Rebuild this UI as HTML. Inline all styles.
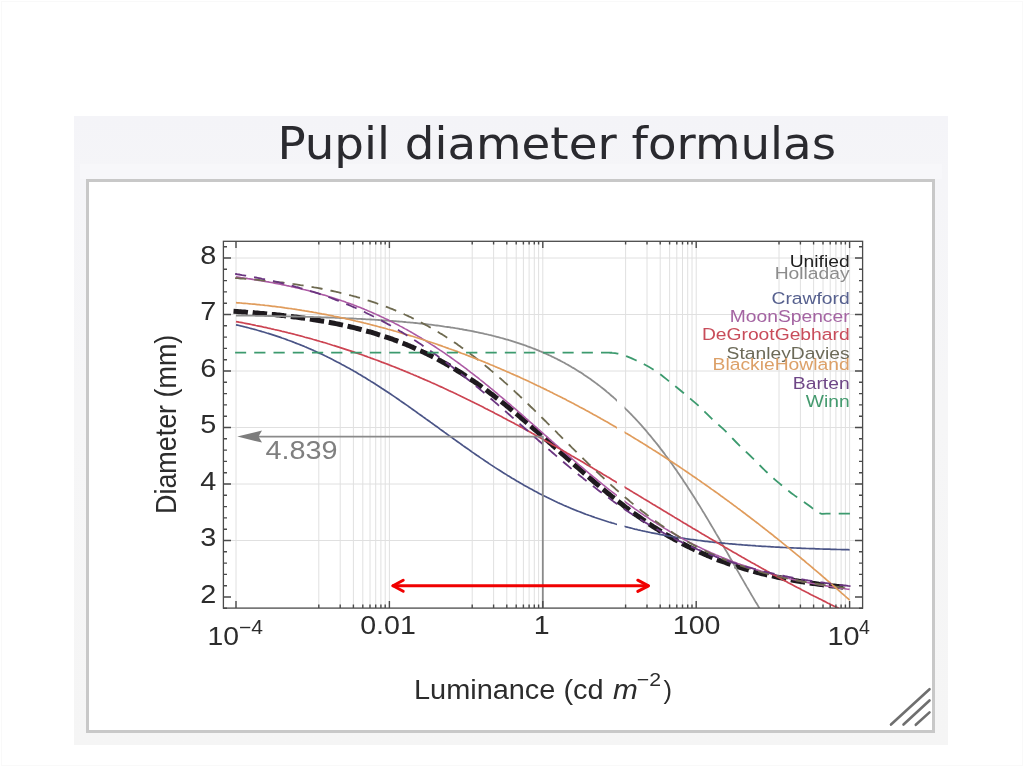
<!DOCTYPE html>
<html><head><meta charset="utf-8"><title>Pupil diameter formulas</title>
<style>
html,body{margin:0;padding:0;background:#fff;}
body{width:1024px;height:767px;overflow:hidden;position:relative;}
#panel{position:absolute;left:74px;top:116px;width:874px;height:629px;background:linear-gradient(#f4f4f8 0,#f5f5f8 60px,#f6f6f7 300px,#f5f5f5 100%);}
#box{position:absolute;left:86px;top:179px;width:849px;height:554px;box-sizing:border-box;border:3px solid #c8c8c8;background:#fff;}
svg{position:absolute;left:0;top:0;}
text{font-family:"Liberation Sans",Arial,sans-serif;}
</style></head>
<body>
<div style="position:absolute;left:1px;top:1px;right:1px;bottom:1px;border:1px solid #f9f9f9;"></div>
<div id="panel"></div>
<div style="position:absolute;left:80px;top:164px;width:862px;height:15px;background:#f7f7fa;"></div>
<div id="box"></div>
<svg width="1024" height="767" viewBox="0 0 1024 767">
<text transform="translate(277.4 158.8) scale(1.056 1)" font-size="44.25" fill="#2a2a2f" style="font-family:'DejaVu Sans',sans-serif">Pupil diameter formulas</text>
<g stroke="#e0e0e0" stroke-width="1" fill="none">
<line x1="223" x2="863" y1="540.5" y2="540.5"/>
<line x1="223" x2="863" y1="484.0" y2="484.0"/>
<line x1="223" x2="863" y1="427.5" y2="427.5"/>
<line x1="223" x2="863" y1="371.0" y2="371.0"/>
<line x1="223" x2="863" y1="314.5" y2="314.5"/>
<line x1="223" x2="863" y1="258.0" y2="258.0"/>
<line x1="236.0" x2="236.0" y1="241" y2="608"/>
<line x1="318.8" x2="318.8" y1="241" y2="608"/>
<line x1="340.2" x2="340.2" y1="241" y2="608"/>
<line x1="353.4" x2="353.4" y1="241" y2="608"/>
<line x1="362.8" x2="362.8" y1="241" y2="608"/>
<line x1="370.0" x2="370.0" y1="241" y2="608"/>
<line x1="375.7" x2="375.7" y1="241" y2="608"/>
<line x1="380.9" x2="380.9" y1="241" y2="608"/>
<line x1="385.2" x2="385.2" y1="241" y2="608"/>
<line x1="389.4" x2="389.4" y1="241" y2="608"/>
<line x1="472.2" x2="472.2" y1="241" y2="608"/>
<line x1="493.6" x2="493.6" y1="241" y2="608"/>
<line x1="506.8" x2="506.8" y1="241" y2="608"/>
<line x1="516.2" x2="516.2" y1="241" y2="608"/>
<line x1="523.4" x2="523.4" y1="241" y2="608"/>
<line x1="529.1" x2="529.1" y1="241" y2="608"/>
<line x1="534.3" x2="534.3" y1="241" y2="608"/>
<line x1="538.6" x2="538.6" y1="241" y2="608"/>
<line x1="542.8" x2="542.8" y1="241" y2="608"/>
<line x1="625.6" x2="625.6" y1="241" y2="608"/>
<line x1="647.0" x2="647.0" y1="241" y2="608"/>
<line x1="660.2" x2="660.2" y1="241" y2="608"/>
<line x1="669.6" x2="669.6" y1="241" y2="608"/>
<line x1="676.8" x2="676.8" y1="241" y2="608"/>
<line x1="682.5" x2="682.5" y1="241" y2="608"/>
<line x1="687.7" x2="687.7" y1="241" y2="608"/>
<line x1="692.0" x2="692.0" y1="241" y2="608"/>
<line x1="696.2" x2="696.2" y1="241" y2="608"/>
<line x1="779.0" x2="779.0" y1="241" y2="608"/>
<line x1="800.4" x2="800.4" y1="241" y2="608"/>
<line x1="813.6" x2="813.6" y1="241" y2="608"/>
<line x1="823.0" x2="823.0" y1="241" y2="608"/>
<line x1="830.2" x2="830.2" y1="241" y2="608"/>
<line x1="835.9" x2="835.9" y1="241" y2="608"/>
<line x1="841.1" x2="841.1" y1="241" y2="608"/>
<line x1="845.4" x2="845.4" y1="241" y2="608"/>
<line x1="849.6" x2="849.6" y1="241" y2="608"/>
</g>
<defs><clipPath id="cp"><rect x="223" y="241" width="394" height="367"/><rect x="624.5" y="241" width="239" height="367"/></clipPath></defs>
<g fill="none" stroke-linejoin="round">
<path d="M236.0 311.5 L237.5 311.6 L239.1 311.7 L240.6 311.8 L242.1 311.9 L243.7 312.0 L245.2 312.1 L246.7 312.3 L248.3 312.4 L249.8 312.5 L251.3 312.6 L252.9 312.7 L254.4 312.8 L255.9 313.0 L257.5 313.1 L259.0 313.2 L260.5 313.4 L262.1 313.5 L263.6 313.6 L265.1 313.8 L266.7 313.9 L268.2 314.0 L269.7 314.2 L271.3 314.3 L272.8 314.5 L274.4 314.6 L275.9 314.8 L277.4 315.0 L279.0 315.1 L280.5 315.3 L282.0 315.5 L283.6 315.6 L285.1 315.8 L286.6 316.0 L288.2 316.2 L289.7 316.3 L291.2 316.5 L292.8 316.7 L294.3 316.9 L295.8 317.1 L297.4 317.3 L298.9 317.5 L300.4 317.7 L302.0 317.9 L303.5 318.1 L305.0 318.4 L306.6 318.6 L308.1 318.8 L309.6 319.0 L311.2 319.3 L312.7 319.5 L314.2 319.8 L315.8 320.0 L317.3 320.3 L318.8 320.5 L320.4 320.8 L321.9 321.0 L323.4 321.3 L325.0 321.6 L326.5 321.8 L328.0 322.1 L329.6 322.4 L331.1 322.7 L332.6 323.0 L334.2 323.3 L335.7 323.6 L337.2 323.9 L338.8 324.2 L340.3 324.6 L341.8 324.9 L343.4 325.2 L344.9 325.6 L346.4 325.9 L348.0 326.3 L349.5 326.6 L351.1 327.0 L352.6 327.3 L354.1 327.7 L355.7 328.1 L357.2 328.5 L358.7 328.9 L360.3 329.3 L361.8 329.7 L363.3 330.1 L364.9 330.5 L366.4 330.9 L367.9 331.4 L369.5 331.8 L371.0 332.2 L372.5 332.7 L374.1 333.2 L375.6 333.6 L377.1 334.1 L378.7 334.6 L380.2 335.1 L381.7 335.5 L383.3 336.1 L384.8 336.6 L386.3 337.1 L387.9 337.6 L389.4 338.1 L390.9 338.7 L392.5 339.2 L394.0 339.8 L395.5 340.3 L397.1 340.9 L398.6 341.5 L400.1 342.1 L401.7 342.7 L403.2 343.3 L404.7 343.9 L406.3 344.5 L407.8 345.2 L409.3 345.8 L410.9 346.5 L412.4 347.1 L413.9 347.8 L415.5 348.5 L417.0 349.1 L418.5 349.8 L420.1 350.5 L421.6 351.3 L423.1 352.0 L424.7 352.7 L426.2 353.5 L427.8 354.2 L429.3 355.0 L430.8 355.7 L432.4 356.5 L433.9 357.3 L435.4 358.1 L437.0 358.9 L438.5 359.7 L440.0 360.6 L441.6 361.4 L443.1 362.3 L444.6 363.1 L446.2 364.0 L447.7 364.9 L449.2 365.8 L450.8 366.7 L452.3 367.6 L453.8 368.5 L455.4 369.4 L456.9 370.3 L458.4 371.3 L460.0 372.2 L461.5 373.2 L463.0 374.2 L464.6 375.2 L466.1 376.2 L467.6 377.2 L469.2 378.2 L470.7 379.2 L472.2 380.3 L473.8 381.3 L475.3 382.4 L476.8 383.4 L478.4 384.5 L479.9 385.6 L481.4 386.7 L483.0 387.8 L484.5 388.9 L486.0 390.0 L487.6 391.1 L489.1 392.3 L490.6 393.4 L492.2 394.6 L493.7 395.7 L495.2 396.9 L496.8 398.1 L498.3 399.3 L499.8 400.5 L501.4 401.7 L502.9 402.9 L504.4 404.1 L506.0 405.3 L507.5 406.6 L509.1 407.8 L510.6 409.1 L512.1 410.3 L513.7 411.6 L515.2 412.9 L516.7 414.1 L518.3 415.4 L519.8 416.7 L521.3 418.0 L522.9 419.3 L524.4 420.6 L525.9 421.9 L527.5 423.2 L529.0 424.5 L530.5 425.9 L532.1 427.2 L533.6 428.5 L535.1 429.8 L536.7 431.2 L538.2 432.5 L539.7 433.9 L541.3 435.2 L542.8 436.6 L544.3 437.9 L545.9 439.3 L547.4 440.6 L548.9 442.0 L550.5 443.4 L552.0 444.7 L553.5 446.1 L555.1 447.5 L556.6 448.8 L558.1 450.2 L559.7 451.6 L561.2 452.9 L562.7 454.3 L564.3 455.6 L565.8 457.0 L567.3 458.4 L568.9 459.7 L570.4 461.1 L571.9 462.5 L573.5 463.8 L575.0 465.2 L576.5 466.5 L578.1 467.9 L579.6 469.2 L581.2 470.6 L582.7 471.9 L584.2 473.2 L585.8 474.6 L587.3 475.9 L588.8 477.2 L590.4 478.5 L591.9 479.8 L593.4 481.2 L595.0 482.5 L596.5 483.8 L598.0 485.0 L599.6 486.3 L601.1 487.6 L602.6 488.9 L604.2 490.2 L605.7 491.4 L607.2 492.7 L608.8 493.9 L610.3 495.2 L611.8 496.4 L613.4 497.6 L614.9 498.8 L616.4 500.1 L618.0 501.3 L619.5 502.5 L621.0 503.6 L622.6 504.8 L624.1 506.0 L625.6 507.2 L627.2 508.3 L628.7 509.5 L630.2 510.6 L631.8 511.7 L633.3 512.9 L634.8 514.0 L636.4 515.1 L637.9 516.2 L639.4 517.2 L641.0 518.3 L642.5 519.4 L644.0 520.4 L645.6 521.5 L647.1 522.5 L648.6 523.5 L650.2 524.6 L651.7 525.6 L653.2 526.6 L654.8 527.6 L656.3 528.5 L657.9 529.5 L659.4 530.5 L660.9 531.4 L662.5 532.3 L664.0 533.3 L665.5 534.2 L667.1 535.1 L668.6 536.0 L670.1 536.9 L671.7 537.8 L673.2 538.6 L674.7 539.5 L676.3 540.3 L677.8 541.2 L679.3 542.0 L680.9 542.8 L682.4 543.6 L683.9 544.4 L685.5 545.2 L687.0 546.0 L688.5 546.8 L690.1 547.5 L691.6 548.3 L693.1 549.0 L694.7 549.8 L696.2 550.5 L697.7 551.2 L699.3 551.9 L700.8 552.6 L702.3 553.3 L703.9 554.0 L705.4 554.6 L706.9 555.3 L708.5 555.9 L710.0 556.6 L711.5 557.2 L713.1 557.8 L714.6 558.5 L716.1 559.1 L717.7 559.7 L719.2 560.3 L720.7 560.8 L722.3 561.4 L723.8 562.0 L725.3 562.5 L726.9 563.1 L728.4 563.6 L729.9 564.2 L731.5 564.7 L733.0 565.2 L734.5 565.7 L736.1 566.2 L737.6 566.7 L739.2 567.2 L740.7 567.7 L742.2 568.1 L743.8 568.6 L745.3 569.1 L746.8 569.5 L748.4 570.0 L749.9 570.4 L751.4 570.8 L753.0 571.3 L754.5 571.7 L756.0 572.1 L757.6 572.5 L759.1 572.9 L760.6 573.3 L762.2 573.7 L763.7 574.0 L765.2 574.4 L766.8 574.8 L768.3 575.1 L769.8 575.5 L771.4 575.8 L772.9 576.2 L774.4 576.5 L776.0 576.9 L777.5 577.2 L779.0 577.5 L780.6 577.8 L782.1 578.1 L783.6 578.5 L785.2 578.8 L786.7 579.1 L788.2 579.3 L789.8 579.6 L791.3 579.9 L792.8 580.2 L794.4 580.5 L795.9 580.7 L797.4 581.0 L799.0 581.3 L800.5 581.5 L802.0 581.8 L803.6 582.0 L805.1 582.2 L806.6 582.5 L808.2 582.7 L809.7 583.0 L811.2 583.2 L812.8 583.4 L814.3 583.6 L815.9 583.8 L817.4 584.0 L818.9 584.3 L820.5 584.5 L822.0 584.7 L823.5 584.9 L825.1 585.0 L826.6 585.2 L828.1 585.4 L829.7 585.6 L831.2 585.8 L832.7 586.0 L834.3 586.1 L835.8 586.3 L837.3 586.5 L838.9 586.6 L840.4 586.8 L841.9 587.0 L843.5 587.1 L845.0 587.3 L846.5 587.4 L848.1 587.6 L849.6 587.7" stroke="#1e1a1e" stroke-width="5" stroke-dasharray="9.45 9.75" stroke-linecap="square"/>
<path d="M236.0 315.5 L237.5 315.5 L239.1 315.5 L240.6 315.6 L242.1 315.6 L243.7 315.6 L245.2 315.6 L246.7 315.6 L248.3 315.7 L249.8 315.7 L251.3 315.7 L252.9 315.7 L254.4 315.7 L255.9 315.8 L257.5 315.8 L259.0 315.8 L260.5 315.8 L262.1 315.9 L263.6 315.9 L265.1 315.9 L266.7 315.9 L268.2 316.0 L269.7 316.0 L271.3 316.0 L272.8 316.1 L274.4 316.1 L275.9 316.1 L277.4 316.1 L279.0 316.2 L280.5 316.2 L282.0 316.2 L283.6 316.3 L285.1 316.3 L286.6 316.3 L288.2 316.4 L289.7 316.4 L291.2 316.4 L292.8 316.5 L294.3 316.5 L295.8 316.5 L297.4 316.6 L298.9 316.6 L300.4 316.7 L302.0 316.7 L303.5 316.7 L305.0 316.8 L306.6 316.8 L308.1 316.9 L309.6 316.9 L311.2 317.0 L312.7 317.0 L314.2 317.1 L315.8 317.1 L317.3 317.1 L318.8 317.2 L320.4 317.2 L321.9 317.3 L323.4 317.3 L325.0 317.4 L326.5 317.5 L328.0 317.5 L329.6 317.6 L331.1 317.6 L332.6 317.7 L334.2 317.7 L335.7 317.8 L337.2 317.9 L338.8 317.9 L340.3 318.0 L341.8 318.0 L343.4 318.1 L344.9 318.2 L346.4 318.3 L348.0 318.3 L349.5 318.4 L351.1 318.5 L352.6 318.5 L354.1 318.6 L355.7 318.7 L357.2 318.8 L358.7 318.8 L360.3 318.9 L361.8 319.0 L363.3 319.1 L364.9 319.2 L366.4 319.3 L367.9 319.3 L369.5 319.4 L371.0 319.5 L372.5 319.6 L374.1 319.7 L375.6 319.8 L377.1 319.9 L378.7 320.0 L380.2 320.1 L381.7 320.2 L383.3 320.3 L384.8 320.4 L386.3 320.5 L387.9 320.6 L389.4 320.8 L390.9 320.9 L392.5 321.0 L394.0 321.1 L395.5 321.2 L397.1 321.4 L398.6 321.5 L400.1 321.6 L401.7 321.7 L403.2 321.9 L404.7 322.0 L406.3 322.2 L407.8 322.3 L409.3 322.4 L410.9 322.6 L412.4 322.7 L413.9 322.9 L415.5 323.0 L417.0 323.2 L418.5 323.4 L420.1 323.5 L421.6 323.7 L423.1 323.9 L424.7 324.0 L426.2 324.2 L427.8 324.4 L429.3 324.6 L430.8 324.7 L432.4 324.9 L433.9 325.1 L435.4 325.3 L437.0 325.5 L438.5 325.7 L440.0 325.9 L441.6 326.1 L443.1 326.3 L444.6 326.6 L446.2 326.8 L447.7 327.0 L449.2 327.2 L450.8 327.5 L452.3 327.7 L453.8 327.9 L455.4 328.2 L456.9 328.4 L458.4 328.7 L460.0 329.0 L461.5 329.2 L463.0 329.5 L464.6 329.8 L466.1 330.0 L467.6 330.3 L469.2 330.6 L470.7 330.9 L472.2 331.2 L473.8 331.5 L475.3 331.8 L476.8 332.1 L478.4 332.5 L479.9 332.8 L481.4 333.1 L483.0 333.4 L484.5 333.8 L486.0 334.1 L487.6 334.5 L489.1 334.9 L490.6 335.2 L492.2 335.6 L493.7 336.0 L495.2 336.4 L496.8 336.8 L498.3 337.2 L499.8 337.6 L501.4 338.0 L502.9 338.4 L504.4 338.8 L506.0 339.3 L507.5 339.7 L509.1 340.2 L510.6 340.6 L512.1 341.1 L513.7 341.6 L515.2 342.1 L516.7 342.6 L518.3 343.1 L519.8 343.6 L521.3 344.1 L522.9 344.6 L524.4 345.2 L525.9 345.7 L527.5 346.3 L529.0 346.8 L530.5 347.4 L532.1 348.0 L533.6 348.6 L535.1 349.2 L536.7 349.8 L538.2 350.4 L539.7 351.1 L541.3 351.7 L542.8 352.4 L544.3 353.1 L545.9 353.7 L547.4 354.4 L548.9 355.1 L550.5 355.8 L552.0 356.6 L553.5 357.3 L555.1 358.1 L556.6 358.8 L558.1 359.6 L559.7 360.4 L561.2 361.2 L562.7 362.0 L564.3 362.8 L565.8 363.7 L567.3 364.5 L568.9 365.4 L570.4 366.3 L571.9 367.2 L573.5 368.1 L575.0 369.0 L576.5 369.9 L578.1 370.9 L579.6 371.9 L581.2 372.8 L582.7 373.8 L584.2 374.9 L585.8 375.9 L587.3 376.9 L588.8 378.0 L590.4 379.1 L591.9 380.2 L593.4 381.3 L595.0 382.4 L596.5 383.6 L598.0 384.7 L599.6 385.9 L601.1 387.1 L602.6 388.3 L604.2 389.5 L605.7 390.8 L607.2 392.1 L608.8 393.3 L610.3 394.7 L611.8 396.0 L613.4 397.3 L614.9 398.7 L616.4 400.1 L618.0 401.5 L619.5 402.9 L621.0 404.3 L622.6 405.8 L624.1 407.3 L625.6 408.8 L627.2 410.3 L628.7 411.8 L630.2 413.4 L631.8 415.0 L633.3 416.6 L634.8 418.2 L636.4 419.9 L637.9 421.5 L639.4 423.2 L641.0 424.9 L642.5 426.6 L644.0 428.4 L645.6 430.2 L647.1 432.0 L648.6 433.8 L650.2 435.6 L651.7 437.5 L653.2 439.4 L654.8 441.3 L656.3 443.2 L657.9 445.1 L659.4 447.1 L660.9 449.1 L662.5 451.1 L664.0 453.1 L665.5 455.2 L667.1 457.2 L668.6 459.3 L670.1 461.5 L671.7 463.6 L673.2 465.8 L674.7 467.9 L676.3 470.1 L677.8 472.4 L679.3 474.6 L680.9 476.9 L682.4 479.1 L683.9 481.4 L685.5 483.7 L687.0 486.1 L688.5 488.4 L690.1 490.8 L691.6 493.2 L693.1 495.6 L694.7 498.0 L696.2 500.5 L697.7 502.9 L699.3 505.4 L700.8 507.9 L702.3 510.4 L703.9 512.9 L705.4 515.5 L706.9 518.0 L708.5 520.6 L710.0 523.2 L711.5 525.8 L713.1 528.4 L714.6 531.0 L716.1 533.6 L717.7 536.2 L719.2 538.8 L720.7 541.5 L722.3 544.1 L723.8 546.8 L725.3 549.5 L726.9 552.1 L728.4 554.8 L729.9 557.5 L731.5 560.2 L733.0 562.8 L734.5 565.5 L736.1 568.2 L737.6 570.9 L739.2 573.6 L740.7 576.2 L742.2 578.9 L743.8 581.6 L745.3 584.2 L746.8 586.9 L748.4 589.5 L749.9 592.1 L751.4 594.8 L753.0 597.4 L754.5 600.0 L756.0 602.6 L757.6 605.1 L759.1 607.7 L760.6 610.2 L762.2 612.8 L763.7 615.3 L765.2 617.7 L766.8 620.2 L768.3 622.6 L769.8 625.1 L771.4 627.5 L772.9 629.8 L774.4 632.2 L776.0 634.5 L777.5 636.8 L779.0 639.0 L780.6 641.3 L782.1 643.5 L783.6 645.6 L785.2 647.8 L786.7 649.9 L788.2 651.9 L789.8 654.0 L791.3 656.0 L792.8 657.9 L794.4 659.9 L795.9 661.8 L797.4 663.6 L799.0 665.4 L800.5 667.2 L802.0 668.9 L803.6 670.6 L805.1 672.3 L806.6 673.9 L808.2 675.5 L809.7 677.0 L811.2 678.5 L812.8 679.9 L814.3 681.3 L815.9 682.7 L817.4 684.0 L818.9 685.3 L820.5 686.5 L822.0 687.7 L823.5 688.9 L825.1 690.0 L826.6 691.1 L828.1 692.1 L829.7 693.1 L831.2 694.1 L832.7 695.0 L834.3 695.9 L835.8 696.8 L837.3 697.6 L838.9 698.3 L840.4 699.1 L841.9 699.8 L843.5 700.5 L845.0 701.1 L846.5 701.7 L848.1 702.3 L849.6 702.8" stroke="#8e8e8e" stroke-width="1.8" clip-path="url(#cp)"/>
<path d="M236.0 324.8 L237.5 325.1 L239.1 325.5 L240.6 325.9 L242.1 326.2 L243.7 326.6 L245.2 327.0 L246.7 327.4 L248.3 327.8 L249.8 328.2 L251.3 328.6 L252.9 329.0 L254.4 329.4 L255.9 329.8 L257.5 330.3 L259.0 330.7 L260.5 331.1 L262.1 331.6 L263.6 332.0 L265.1 332.5 L266.7 333.0 L268.2 333.4 L269.7 333.9 L271.3 334.4 L272.8 334.9 L274.4 335.4 L275.9 335.9 L277.4 336.4 L279.0 336.9 L280.5 337.4 L282.0 338.0 L283.6 338.5 L285.1 339.0 L286.6 339.6 L288.2 340.2 L289.7 340.7 L291.2 341.3 L292.8 341.9 L294.3 342.5 L295.8 343.1 L297.4 343.7 L298.9 344.3 L300.4 344.9 L302.0 345.5 L303.5 346.1 L305.0 346.8 L306.6 347.4 L308.1 348.1 L309.6 348.7 L311.2 349.4 L312.7 350.1 L314.2 350.8 L315.8 351.5 L317.3 352.2 L318.8 352.9 L320.4 353.6 L321.9 354.3 L323.4 355.0 L325.0 355.8 L326.5 356.5 L328.0 357.3 L329.6 358.0 L331.1 358.8 L332.6 359.6 L334.2 360.4 L335.7 361.2 L337.2 362.0 L338.8 362.8 L340.3 363.6 L341.8 364.4 L343.4 365.2 L344.9 366.1 L346.4 366.9 L348.0 367.8 L349.5 368.6 L351.1 369.5 L352.6 370.3 L354.1 371.2 L355.7 372.1 L357.2 373.0 L358.7 373.9 L360.3 374.8 L361.8 375.7 L363.3 376.7 L364.9 377.6 L366.4 378.5 L367.9 379.5 L369.5 380.4 L371.0 381.4 L372.5 382.3 L374.1 383.3 L375.6 384.3 L377.1 385.2 L378.7 386.2 L380.2 387.2 L381.7 388.2 L383.3 389.2 L384.8 390.2 L386.3 391.2 L387.9 392.3 L389.4 393.3 L390.9 394.3 L392.5 395.4 L394.0 396.4 L395.5 397.4 L397.1 398.5 L398.6 399.5 L400.1 400.6 L401.7 401.7 L403.2 402.7 L404.7 403.8 L406.3 404.9 L407.8 405.9 L409.3 407.0 L410.9 408.1 L412.4 409.2 L413.9 410.3 L415.5 411.4 L417.0 412.5 L418.5 413.6 L420.1 414.7 L421.6 415.8 L423.1 416.9 L424.7 418.0 L426.2 419.1 L427.8 420.2 L429.3 421.3 L430.8 422.4 L432.4 423.5 L433.9 424.6 L435.4 425.7 L437.0 426.8 L438.5 427.9 L440.0 429.1 L441.6 430.2 L443.1 431.3 L444.6 432.4 L446.2 433.5 L447.7 434.6 L449.2 435.7 L450.8 436.8 L452.3 437.9 L453.8 439.0 L455.4 440.1 L456.9 441.2 L458.4 442.3 L460.0 443.4 L461.5 444.5 L463.0 445.6 L464.6 446.7 L466.1 447.8 L467.6 448.8 L469.2 449.9 L470.7 451.0 L472.2 452.1 L473.8 453.1 L475.3 454.2 L476.8 455.3 L478.4 456.3 L479.9 457.4 L481.4 458.4 L483.0 459.4 L484.5 460.5 L486.0 461.5 L487.6 462.5 L489.1 463.6 L490.6 464.6 L492.2 465.6 L493.7 466.6 L495.2 467.6 L496.8 468.6 L498.3 469.6 L499.8 470.5 L501.4 471.5 L502.9 472.5 L504.4 473.4 L506.0 474.4 L507.5 475.4 L509.1 476.3 L510.6 477.2 L512.1 478.2 L513.7 479.1 L515.2 480.0 L516.7 480.9 L518.3 481.8 L519.8 482.7 L521.3 483.6 L522.9 484.5 L524.4 485.4 L525.9 486.2 L527.5 487.1 L529.0 487.9 L530.5 488.8 L532.1 489.6 L533.6 490.4 L535.1 491.3 L536.7 492.1 L538.2 492.9 L539.7 493.7 L541.3 494.5 L542.8 495.3 L544.3 496.0 L545.9 496.8 L547.4 497.6 L548.9 498.3 L550.5 499.1 L552.0 499.8 L553.5 500.5 L555.1 501.3 L556.6 502.0 L558.1 502.7 L559.7 503.4 L561.2 504.1 L562.7 504.8 L564.3 505.5 L565.8 506.1 L567.3 506.8 L568.9 507.4 L570.4 508.1 L571.9 508.7 L573.5 509.4 L575.0 510.0 L576.5 510.6 L578.1 511.2 L579.6 511.8 L581.2 512.4 L582.7 513.0 L584.2 513.6 L585.8 514.2 L587.3 514.7 L588.8 515.3 L590.4 515.8 L591.9 516.4 L593.4 516.9 L595.0 517.5 L596.5 518.0 L598.0 518.5 L599.6 519.0 L601.1 519.5 L602.6 520.0 L604.2 520.5 L605.7 521.0 L607.2 521.5 L608.8 522.0 L610.3 522.4 L611.8 522.9 L613.4 523.3 L614.9 523.8 L616.4 524.2 L618.0 524.7 L619.5 525.1 L621.0 525.5 L622.6 525.9 L624.1 526.3 L625.6 526.7 L627.2 527.1 L628.7 527.5 L630.2 527.9 L631.8 528.3 L633.3 528.7 L634.8 529.1 L636.4 529.4 L637.9 529.8 L639.4 530.1 L641.0 530.5 L642.5 530.8 L644.0 531.2 L645.6 531.5 L647.1 531.8 L648.6 532.2 L650.2 532.5 L651.7 532.8 L653.2 533.1 L654.8 533.4 L656.3 533.7 L657.9 534.0 L659.4 534.3 L660.9 534.6 L662.5 534.9 L664.0 535.2 L665.5 535.4 L667.1 535.7 L668.6 536.0 L670.1 536.2 L671.7 536.5 L673.2 536.8 L674.7 537.0 L676.3 537.3 L677.8 537.5 L679.3 537.7 L680.9 538.0 L682.4 538.2 L683.9 538.4 L685.5 538.7 L687.0 538.9 L688.5 539.1 L690.1 539.3 L691.6 539.5 L693.1 539.7 L694.7 539.9 L696.2 540.1 L697.7 540.3 L699.3 540.5 L700.8 540.7 L702.3 540.9 L703.9 541.1 L705.4 541.3 L706.9 541.4 L708.5 541.6 L710.0 541.8 L711.5 542.0 L713.1 542.1 L714.6 542.3 L716.1 542.5 L717.7 542.6 L719.2 542.8 L720.7 542.9 L722.3 543.1 L723.8 543.2 L725.3 543.4 L726.9 543.5 L728.4 543.7 L729.9 543.8 L731.5 543.9 L733.0 544.1 L734.5 544.2 L736.1 544.3 L737.6 544.5 L739.2 544.6 L740.7 544.7 L742.2 544.8 L743.8 545.0 L745.3 545.1 L746.8 545.2 L748.4 545.3 L749.9 545.4 L751.4 545.5 L753.0 545.6 L754.5 545.7 L756.0 545.9 L757.6 546.0 L759.1 546.1 L760.6 546.2 L762.2 546.3 L763.7 546.3 L765.2 546.4 L766.8 546.5 L768.3 546.6 L769.8 546.7 L771.4 546.8 L772.9 546.9 L774.4 547.0 L776.0 547.1 L777.5 547.1 L779.0 547.2 L780.6 547.3 L782.1 547.4 L783.6 547.5 L785.2 547.5 L786.7 547.6 L788.2 547.7 L789.8 547.8 L791.3 547.8 L792.8 547.9 L794.4 548.0 L795.9 548.0 L797.4 548.1 L799.0 548.2 L800.5 548.2 L802.0 548.3 L803.6 548.3 L805.1 548.4 L806.6 548.5 L808.2 548.5 L809.7 548.6 L811.2 548.6 L812.8 548.7 L814.3 548.7 L815.9 548.8 L817.4 548.9 L818.9 548.9 L820.5 549.0 L822.0 549.0 L823.5 549.1 L825.1 549.1 L826.6 549.2 L828.1 549.2 L829.7 549.2 L831.2 549.3 L832.7 549.3 L834.3 549.4 L835.8 549.4 L837.3 549.5 L838.9 549.5 L840.4 549.5 L841.9 549.6 L843.5 549.6 L845.0 549.7 L846.5 549.7 L848.1 549.7 L849.6 549.8" stroke="#4a5486" stroke-width="1.7" clip-path="url(#cp)"/>
<path d="M236.0 276.9 L237.5 277.1 L239.1 277.3 L240.6 277.6 L242.1 277.8 L243.7 278.0 L245.2 278.2 L246.7 278.4 L248.3 278.7 L249.8 278.9 L251.3 279.1 L252.9 279.4 L254.4 279.6 L255.9 279.9 L257.5 280.1 L259.0 280.4 L260.5 280.6 L262.1 280.9 L263.6 281.1 L265.1 281.4 L266.7 281.7 L268.2 281.9 L269.7 282.2 L271.3 282.5 L272.8 282.8 L274.4 283.1 L275.9 283.4 L277.4 283.7 L279.0 284.0 L280.5 284.3 L282.0 284.6 L283.6 284.9 L285.1 285.2 L286.6 285.6 L288.2 285.9 L289.7 286.2 L291.2 286.6 L292.8 286.9 L294.3 287.3 L295.8 287.6 L297.4 288.0 L298.9 288.3 L300.4 288.7 L302.0 289.1 L303.5 289.5 L305.0 289.8 L306.6 290.2 L308.1 290.6 L309.6 291.0 L311.2 291.4 L312.7 291.8 L314.2 292.3 L315.8 292.7 L317.3 293.1 L318.8 293.5 L320.4 294.0 L321.9 294.4 L323.4 294.9 L325.0 295.3 L326.5 295.8 L328.0 296.3 L329.6 296.7 L331.1 297.2 L332.6 297.7 L334.2 298.2 L335.7 298.7 L337.2 299.2 L338.8 299.7 L340.3 300.2 L341.8 300.8 L343.4 301.3 L344.9 301.8 L346.4 302.4 L348.0 302.9 L349.5 303.5 L351.1 304.1 L352.6 304.6 L354.1 305.2 L355.7 305.8 L357.2 306.4 L358.7 307.0 L360.3 307.6 L361.8 308.2 L363.3 308.8 L364.9 309.5 L366.4 310.1 L367.9 310.8 L369.5 311.4 L371.0 312.1 L372.5 312.7 L374.1 313.4 L375.6 314.1 L377.1 314.8 L378.7 315.5 L380.2 316.2 L381.7 316.9 L383.3 317.6 L384.8 318.4 L386.3 319.1 L387.9 319.8 L389.4 320.6 L390.9 321.4 L392.5 322.1 L394.0 322.9 L395.5 323.7 L397.1 324.5 L398.6 325.3 L400.1 326.1 L401.7 326.9 L403.2 327.7 L404.7 328.6 L406.3 329.4 L407.8 330.3 L409.3 331.1 L410.9 332.0 L412.4 332.9 L413.9 333.8 L415.5 334.7 L417.0 335.6 L418.5 336.5 L420.1 337.4 L421.6 338.3 L423.1 339.3 L424.7 340.2 L426.2 341.2 L427.8 342.1 L429.3 343.1 L430.8 344.1 L432.4 345.1 L433.9 346.0 L435.4 347.0 L437.0 348.1 L438.5 349.1 L440.0 350.1 L441.6 351.1 L443.1 352.2 L444.6 353.2 L446.2 354.3 L447.7 355.4 L449.2 356.4 L450.8 357.5 L452.3 358.6 L453.8 359.7 L455.4 360.8 L456.9 361.9 L458.4 363.0 L460.0 364.2 L461.5 365.3 L463.0 366.4 L464.6 367.6 L466.1 368.7 L467.6 369.9 L469.2 371.1 L470.7 372.3 L472.2 373.4 L473.8 374.6 L475.3 375.8 L476.8 377.0 L478.4 378.2 L479.9 379.5 L481.4 380.7 L483.0 381.9 L484.5 383.2 L486.0 384.4 L487.6 385.6 L489.1 386.9 L490.6 388.2 L492.2 389.4 L493.7 390.7 L495.2 392.0 L496.8 393.2 L498.3 394.5 L499.8 395.8 L501.4 397.1 L502.9 398.4 L504.4 399.7 L506.0 401.0 L507.5 402.3 L509.1 403.6 L510.6 404.9 L512.1 406.3 L513.7 407.6 L515.2 408.9 L516.7 410.2 L518.3 411.6 L519.8 412.9 L521.3 414.2 L522.9 415.6 L524.4 416.9 L525.9 418.3 L527.5 419.6 L529.0 421.0 L530.5 422.3 L532.1 423.7 L533.6 425.0 L535.1 426.4 L536.7 427.7 L538.2 429.1 L539.7 430.4 L541.3 431.8 L542.8 433.1 L544.3 434.5 L545.9 435.9 L547.4 437.2 L548.9 438.6 L550.5 439.9 L552.0 441.3 L553.5 442.6 L555.1 444.0 L556.6 445.3 L558.1 446.7 L559.7 448.0 L561.2 449.4 L562.7 450.7 L564.3 452.1 L565.8 453.4 L567.3 454.7 L568.9 456.1 L570.4 457.4 L571.9 458.7 L573.5 460.0 L575.0 461.4 L576.5 462.7 L578.1 464.0 L579.6 465.3 L581.2 466.6 L582.7 467.9 L584.2 469.2 L585.8 470.5 L587.3 471.8 L588.8 473.1 L590.4 474.3 L591.9 475.6 L593.4 476.9 L595.0 478.1 L596.5 479.4 L598.0 480.7 L599.6 481.9 L601.1 483.1 L602.6 484.4 L604.2 485.6 L605.7 486.8 L607.2 488.1 L608.8 489.3 L610.3 490.5 L611.8 491.7 L613.4 492.9 L614.9 494.0 L616.4 495.2 L618.0 496.4 L619.5 497.6 L621.0 498.7 L622.6 499.9 L624.1 501.0 L625.6 502.1 L627.2 503.3 L628.7 504.4 L630.2 505.5 L631.8 506.6 L633.3 507.7 L634.8 508.8 L636.4 509.9 L637.9 510.9 L639.4 512.0 L641.0 513.1 L642.5 514.1 L644.0 515.2 L645.6 516.2 L647.1 517.2 L648.6 518.2 L650.2 519.3 L651.7 520.3 L653.2 521.2 L654.8 522.2 L656.3 523.2 L657.9 524.2 L659.4 525.1 L660.9 526.1 L662.5 527.0 L664.0 528.0 L665.5 528.9 L667.1 529.8 L668.6 530.7 L670.1 531.6 L671.7 532.5 L673.2 533.4 L674.7 534.3 L676.3 535.2 L677.8 536.0 L679.3 536.9 L680.9 537.7 L682.4 538.6 L683.9 539.4 L685.5 540.2 L687.0 541.0 L688.5 541.8 L690.1 542.6 L691.6 543.4 L693.1 544.2 L694.7 544.9 L696.2 545.7 L697.7 546.5 L699.3 547.2 L700.8 547.9 L702.3 548.7 L703.9 549.4 L705.4 550.1 L706.9 550.8 L708.5 551.5 L710.0 552.2 L711.5 552.9 L713.1 553.6 L714.6 554.2 L716.1 554.9 L717.7 555.5 L719.2 556.2 L720.7 556.8 L722.3 557.5 L723.8 558.1 L725.3 558.7 L726.9 559.3 L728.4 559.9 L729.9 560.5 L731.5 561.1 L733.0 561.7 L734.5 562.2 L736.1 562.8 L737.6 563.4 L739.2 563.9 L740.7 564.5 L742.2 565.0 L743.8 565.5 L745.3 566.1 L746.8 566.6 L748.4 567.1 L749.9 567.6 L751.4 568.1 L753.0 568.6 L754.5 569.1 L756.0 569.6 L757.6 570.0 L759.1 570.5 L760.6 571.0 L762.2 571.4 L763.7 571.9 L765.2 572.3 L766.8 572.8 L768.3 573.2 L769.8 573.6 L771.4 574.0 L772.9 574.5 L774.4 574.9 L776.0 575.3 L777.5 575.7 L779.0 576.1 L780.6 576.5 L782.1 576.8 L783.6 577.2 L785.2 577.6 L786.7 578.0 L788.2 578.3 L789.8 578.7 L791.3 579.0 L792.8 579.4 L794.4 579.7 L795.9 580.1 L797.4 580.4 L799.0 580.7 L800.5 581.1 L802.0 581.4 L803.6 581.7 L805.1 582.0 L806.6 582.3 L808.2 582.6 L809.7 582.9 L811.2 583.2 L812.8 583.5 L814.3 583.8 L815.9 584.1 L817.4 584.4 L818.9 584.6 L820.5 584.9 L822.0 585.2 L823.5 585.4 L825.1 585.7 L826.6 585.9 L828.1 586.2 L829.7 586.4 L831.2 586.7 L832.7 586.9 L834.3 587.2 L835.8 587.4 L837.3 587.6 L838.9 587.9 L840.4 588.1 L841.9 588.3 L843.5 588.5 L845.0 588.7 L846.5 589.0 L848.1 589.2 L849.6 589.4" stroke="#ac5aa4" stroke-width="1.6" clip-path="url(#cp)"/>
<path d="M236.0 321.6 L237.5 321.9 L239.1 322.2 L240.6 322.4 L242.1 322.7 L243.7 323.0 L245.2 323.3 L246.7 323.6 L248.3 323.9 L249.8 324.2 L251.3 324.5 L252.9 324.8 L254.4 325.1 L255.9 325.5 L257.5 325.8 L259.0 326.1 L260.5 326.4 L262.1 326.7 L263.6 327.1 L265.1 327.4 L266.7 327.7 L268.2 328.1 L269.7 328.4 L271.3 328.8 L272.8 329.1 L274.4 329.5 L275.9 329.8 L277.4 330.2 L279.0 330.5 L280.5 330.9 L282.0 331.3 L283.6 331.6 L285.1 332.0 L286.6 332.4 L288.2 332.8 L289.7 333.1 L291.2 333.5 L292.8 333.9 L294.3 334.3 L295.8 334.7 L297.4 335.1 L298.9 335.5 L300.4 335.9 L302.0 336.3 L303.5 336.7 L305.0 337.2 L306.6 337.6 L308.1 338.0 L309.6 338.4 L311.2 338.8 L312.7 339.3 L314.2 339.7 L315.8 340.1 L317.3 340.6 L318.8 341.0 L320.4 341.5 L321.9 341.9 L323.4 342.4 L325.0 342.8 L326.5 343.3 L328.0 343.8 L329.6 344.2 L331.1 344.7 L332.6 345.2 L334.2 345.6 L335.7 346.1 L337.2 346.6 L338.8 347.1 L340.3 347.6 L341.8 348.1 L343.4 348.6 L344.9 349.1 L346.4 349.6 L348.0 350.1 L349.5 350.6 L351.1 351.1 L352.6 351.6 L354.1 352.1 L355.7 352.7 L357.2 353.2 L358.7 353.7 L360.3 354.3 L361.8 354.8 L363.3 355.3 L364.9 355.9 L366.4 356.4 L367.9 357.0 L369.5 357.5 L371.0 358.1 L372.5 358.6 L374.1 359.2 L375.6 359.8 L377.1 360.3 L378.7 360.9 L380.2 361.5 L381.7 362.1 L383.3 362.6 L384.8 363.2 L386.3 363.8 L387.9 364.4 L389.4 365.0 L390.9 365.6 L392.5 366.2 L394.0 366.8 L395.5 367.4 L397.1 368.0 L398.6 368.6 L400.1 369.3 L401.7 369.9 L403.2 370.5 L404.7 371.1 L406.3 371.8 L407.8 372.4 L409.3 373.0 L410.9 373.7 L412.4 374.3 L413.9 375.0 L415.5 375.6 L417.0 376.3 L418.5 376.9 L420.1 377.6 L421.6 378.2 L423.1 378.9 L424.7 379.6 L426.2 380.2 L427.8 380.9 L429.3 381.6 L430.8 382.3 L432.4 383.0 L433.9 383.6 L435.4 384.3 L437.0 385.0 L438.5 385.7 L440.0 386.4 L441.6 387.1 L443.1 387.8 L444.6 388.5 L446.2 389.2 L447.7 389.9 L449.2 390.7 L450.8 391.4 L452.3 392.1 L453.8 392.8 L455.4 393.5 L456.9 394.3 L458.4 395.0 L460.0 395.7 L461.5 396.5 L463.0 397.2 L464.6 398.0 L466.1 398.7 L467.6 399.5 L469.2 400.2 L470.7 401.0 L472.2 401.7 L473.8 402.5 L475.3 403.3 L476.8 404.0 L478.4 404.8 L479.9 405.6 L481.4 406.3 L483.0 407.1 L484.5 407.9 L486.0 408.7 L487.6 409.4 L489.1 410.2 L490.6 411.0 L492.2 411.8 L493.7 412.6 L495.2 413.4 L496.8 414.2 L498.3 415.0 L499.8 415.8 L501.4 416.6 L502.9 417.4 L504.4 418.2 L506.0 419.0 L507.5 419.9 L509.1 420.7 L510.6 421.5 L512.1 422.3 L513.7 423.1 L515.2 424.0 L516.7 424.8 L518.3 425.6 L519.8 426.4 L521.3 427.3 L522.9 428.1 L524.4 429.0 L525.9 429.8 L527.5 430.6 L529.0 431.5 L530.5 432.3 L532.1 433.2 L533.6 434.0 L535.1 434.9 L536.7 435.7 L538.2 436.6 L539.7 437.5 L541.3 438.3 L542.8 439.2 L544.3 440.0 L545.9 440.9 L547.4 441.8 L548.9 442.6 L550.5 443.5 L552.0 444.4 L553.5 445.3 L555.1 446.1 L556.6 447.0 L558.1 447.9 L559.7 448.8 L561.2 449.7 L562.7 450.5 L564.3 451.4 L565.8 452.3 L567.3 453.2 L568.9 454.1 L570.4 455.0 L571.9 455.9 L573.5 456.8 L575.0 457.7 L576.5 458.6 L578.1 459.4 L579.6 460.3 L581.2 461.2 L582.7 462.1 L584.2 463.0 L585.8 464.0 L587.3 464.9 L588.8 465.8 L590.4 466.7 L591.9 467.6 L593.4 468.5 L595.0 469.4 L596.5 470.3 L598.0 471.2 L599.6 472.1 L601.1 473.0 L602.6 474.0 L604.2 474.9 L605.7 475.8 L607.2 476.7 L608.8 477.6 L610.3 478.5 L611.8 479.5 L613.4 480.4 L614.9 481.3 L616.4 482.2 L618.0 483.1 L619.5 484.1 L621.0 485.0 L622.6 485.9 L624.1 486.8 L625.6 487.7 L627.2 488.7 L628.7 489.6 L630.2 490.5 L631.8 491.4 L633.3 492.4 L634.8 493.3 L636.4 494.2 L637.9 495.1 L639.4 496.1 L641.0 497.0 L642.5 497.9 L644.0 498.9 L645.6 499.8 L647.1 500.7 L648.6 501.6 L650.2 502.6 L651.7 503.5 L653.2 504.4 L654.8 505.3 L656.3 506.3 L657.9 507.2 L659.4 508.1 L660.9 509.0 L662.5 510.0 L664.0 510.9 L665.5 511.8 L667.1 512.8 L668.6 513.7 L670.1 514.6 L671.7 515.5 L673.2 516.4 L674.7 517.4 L676.3 518.3 L677.8 519.2 L679.3 520.1 L680.9 521.1 L682.4 522.0 L683.9 522.9 L685.5 523.8 L687.0 524.7 L688.5 525.7 L690.1 526.6 L691.6 527.5 L693.1 528.4 L694.7 529.3 L696.2 530.2 L697.7 531.1 L699.3 532.1 L700.8 533.0 L702.3 533.9 L703.9 534.8 L705.4 535.7 L706.9 536.6 L708.5 537.5 L710.0 538.4 L711.5 539.3 L713.1 540.2 L714.6 541.1 L716.1 542.0 L717.7 542.9 L719.2 543.8 L720.7 544.7 L722.3 545.6 L723.8 546.5 L725.3 547.4 L726.9 548.3 L728.4 549.2 L729.9 550.1 L731.5 551.0 L733.0 551.9 L734.5 552.8 L736.1 553.6 L737.6 554.5 L739.2 555.4 L740.7 556.3 L742.2 557.2 L743.8 558.0 L745.3 558.9 L746.8 559.8 L748.4 560.7 L749.9 561.5 L751.4 562.4 L753.0 563.3 L754.5 564.1 L756.0 565.0 L757.6 565.8 L759.1 566.7 L760.6 567.6 L762.2 568.4 L763.7 569.3 L765.2 570.1 L766.8 571.0 L768.3 571.8 L769.8 572.7 L771.4 573.5 L772.9 574.4 L774.4 575.2 L776.0 576.0 L777.5 576.9 L779.0 577.7 L780.6 578.5 L782.1 579.4 L783.6 580.2 L785.2 581.0 L786.7 581.8 L788.2 582.7 L789.8 583.5 L791.3 584.3 L792.8 585.1 L794.4 585.9 L795.9 586.7 L797.4 587.5 L799.0 588.3 L800.5 589.1 L802.0 589.9 L803.6 590.7 L805.1 591.5 L806.6 592.3 L808.2 593.1 L809.7 593.9 L811.2 594.7 L812.8 595.5 L814.3 596.3 L815.9 597.0 L817.4 597.8 L818.9 598.6 L820.5 599.3 L822.0 600.1 L823.5 600.9 L825.1 601.6 L826.6 602.4 L828.1 603.2 L829.7 603.9 L831.2 604.7 L832.7 605.4 L834.3 606.2 L835.8 606.9 L837.3 607.6 L838.9 608.4 L840.4 609.1 L841.9 609.8 L843.5 610.6 L845.0 611.3 L846.5 612.0 L848.1 612.7 L849.6 613.5" stroke="#cc4452" stroke-width="1.7" clip-path="url(#cp)"/>
<path d="M236.0 278.1 L237.5 278.2 L239.1 278.3 L240.6 278.5 L242.1 278.6 L243.7 278.7 L245.2 278.8 L246.7 278.9 L248.3 279.1 L249.8 279.2 L251.3 279.3 L252.9 279.5 L254.4 279.6 L255.9 279.7 L257.5 279.9 L259.0 280.0 L260.5 280.2 L262.1 280.3 L263.6 280.5 L265.1 280.6 L266.7 280.8 L268.2 281.0 L269.7 281.1 L271.3 281.3 L272.8 281.5 L274.4 281.6 L275.9 281.8 L277.4 282.0 L279.0 282.2 L280.5 282.3 L282.0 282.5 L283.6 282.7 L285.1 282.9 L286.6 283.1 L288.2 283.3 L289.7 283.5 L291.2 283.7 L292.8 284.0 L294.3 284.2 L295.8 284.4 L297.4 284.6 L298.9 284.8 L300.4 285.1 L302.0 285.3 L303.5 285.6 L305.0 285.8 L306.6 286.0 L308.1 286.3 L309.6 286.6 L311.2 286.8 L312.7 287.1 L314.2 287.4 L315.8 287.6 L317.3 287.9 L318.8 288.2 L320.4 288.5 L321.9 288.8 L323.4 289.1 L325.0 289.4 L326.5 289.7 L328.0 290.0 L329.6 290.3 L331.1 290.7 L332.6 291.0 L334.2 291.3 L335.7 291.7 L337.2 292.0 L338.8 292.4 L340.3 292.8 L341.8 293.1 L343.4 293.5 L344.9 293.9 L346.4 294.3 L348.0 294.7 L349.5 295.1 L351.1 295.5 L352.6 295.9 L354.1 296.3 L355.7 296.7 L357.2 297.2 L358.7 297.6 L360.3 298.0 L361.8 298.5 L363.3 299.0 L364.9 299.4 L366.4 299.9 L367.9 300.4 L369.5 300.9 L371.0 301.4 L372.5 301.9 L374.1 302.4 L375.6 302.9 L377.1 303.5 L378.7 304.0 L380.2 304.5 L381.7 305.1 L383.3 305.7 L384.8 306.2 L386.3 306.8 L387.9 307.4 L389.4 308.0 L390.9 308.6 L392.5 309.2 L394.0 309.8 L395.5 310.5 L397.1 311.1 L398.6 311.8 L400.1 312.4 L401.7 313.1 L403.2 313.8 L404.7 314.5 L406.3 315.2 L407.8 315.9 L409.3 316.6 L410.9 317.3 L412.4 318.1 L413.9 318.8 L415.5 319.6 L417.0 320.4 L418.5 321.1 L420.1 321.9 L421.6 322.7 L423.1 323.5 L424.7 324.4 L426.2 325.2 L427.8 326.0 L429.3 326.9 L430.8 327.8 L432.4 328.6 L433.9 329.5 L435.4 330.4 L437.0 331.3 L438.5 332.2 L440.0 333.2 L441.6 334.1 L443.1 335.1 L444.6 336.0 L446.2 337.0 L447.7 338.0 L449.2 339.0 L450.8 340.0 L452.3 341.0 L453.8 342.1 L455.4 343.1 L456.9 344.1 L458.4 345.2 L460.0 346.3 L461.5 347.4 L463.0 348.5 L464.6 349.6 L466.1 350.7 L467.6 351.8 L469.2 353.0 L470.7 354.1 L472.2 355.3 L473.8 356.5 L475.3 357.6 L476.8 358.8 L478.4 360.0 L479.9 361.3 L481.4 362.5 L483.0 363.7 L484.5 365.0 L486.0 366.2 L487.6 367.5 L489.1 368.8 L490.6 370.1 L492.2 371.4 L493.7 372.7 L495.2 374.0 L496.8 375.3 L498.3 376.6 L499.8 378.0 L501.4 379.3 L502.9 380.7 L504.4 382.1 L506.0 383.4 L507.5 384.8 L509.1 386.2 L510.6 387.6 L512.1 389.0 L513.7 390.4 L515.2 391.9 L516.7 393.3 L518.3 394.7 L519.8 396.2 L521.3 397.6 L522.9 399.1 L524.4 400.6 L525.9 402.0 L527.5 403.5 L529.0 405.0 L530.5 406.5 L532.1 408.0 L533.6 409.4 L535.1 410.9 L536.7 412.4 L538.2 414.0 L539.7 415.5 L541.3 417.0 L542.8 418.5 L544.3 420.0 L545.9 421.5 L547.4 423.1 L548.9 424.6 L550.5 426.1 L552.0 427.7 L553.5 429.2 L555.1 430.7 L556.6 432.2 L558.1 433.8 L559.7 435.3 L561.2 436.8 L562.7 438.4 L564.3 439.9 L565.8 441.4 L567.3 443.0 L568.9 444.5 L570.4 446.0 L571.9 447.6 L573.5 449.1 L575.0 450.6 L576.5 452.1 L578.1 453.6 L579.6 455.1 L581.2 456.6 L582.7 458.1 L584.2 459.6 L585.8 461.1 L587.3 462.6 L588.8 464.1 L590.4 465.6 L591.9 467.1 L593.4 468.5 L595.0 470.0 L596.5 471.5 L598.0 472.9 L599.6 474.4 L601.1 475.8 L602.6 477.2 L604.2 478.7 L605.7 480.1 L607.2 481.5 L608.8 482.9 L610.3 484.3 L611.8 485.7 L613.4 487.0 L614.9 488.4 L616.4 489.8 L618.0 491.1 L619.5 492.5 L621.0 493.8 L622.6 495.1 L624.1 496.4 L625.6 497.7 L627.2 499.0 L628.7 500.3 L630.2 501.6 L631.8 502.9 L633.3 504.1 L634.8 505.4 L636.4 506.6 L637.9 507.8 L639.4 509.1 L641.0 510.3 L642.5 511.5 L644.0 512.6 L645.6 513.8 L647.1 515.0 L648.6 516.1 L650.2 517.3 L651.7 518.4 L653.2 519.5 L654.8 520.6 L656.3 521.7 L657.9 522.8 L659.4 523.9 L660.9 525.0 L662.5 526.0 L664.0 527.0 L665.5 528.1 L667.1 529.1 L668.6 530.1 L670.1 531.1 L671.7 532.1 L673.2 533.1 L674.7 534.0 L676.3 535.0 L677.8 535.9 L679.3 536.9 L680.9 537.8 L682.4 538.7 L683.9 539.6 L685.5 540.5 L687.0 541.3 L688.5 542.2 L690.1 543.1 L691.6 543.9 L693.1 544.7 L694.7 545.6 L696.2 546.4 L697.7 547.2 L699.3 548.0 L700.8 548.8 L702.3 549.5 L703.9 550.3 L705.4 551.0 L706.9 551.8 L708.5 552.5 L710.0 553.2 L711.5 553.9 L713.1 554.6 L714.6 555.3 L716.1 556.0 L717.7 556.7 L719.2 557.3 L720.7 558.0 L722.3 558.6 L723.8 559.3 L725.3 559.9 L726.9 560.5 L728.4 561.1 L729.9 561.7 L731.5 562.3 L733.0 562.9 L734.5 563.5 L736.1 564.0 L737.6 564.6 L739.2 565.1 L740.7 565.7 L742.2 566.2 L743.8 566.7 L745.3 567.2 L746.8 567.7 L748.4 568.2 L749.9 568.7 L751.4 569.2 L753.0 569.7 L754.5 570.2 L756.0 570.6 L757.6 571.1 L759.1 571.5 L760.6 572.0 L762.2 572.4 L763.7 572.8 L765.2 573.2 L766.8 573.6 L768.3 574.1 L769.8 574.5 L771.4 574.8 L772.9 575.2 L774.4 575.6 L776.0 576.0 L777.5 576.4 L779.0 576.7 L780.6 577.1 L782.1 577.4 L783.6 577.8 L785.2 578.1 L786.7 578.4 L788.2 578.8 L789.8 579.1 L791.3 579.4 L792.8 579.7 L794.4 580.0 L795.9 580.3 L797.4 580.6 L799.0 580.9 L800.5 581.2 L802.0 581.5 L803.6 581.8 L805.1 582.0 L806.6 582.3 L808.2 582.6 L809.7 582.8 L811.2 583.1 L812.8 583.3 L814.3 583.6 L815.9 583.8 L817.4 584.0 L818.9 584.3 L820.5 584.5 L822.0 584.7 L823.5 585.0 L825.1 585.2 L826.6 585.4 L828.1 585.6 L829.7 585.8 L831.2 586.0 L832.7 586.2 L834.3 586.4 L835.8 586.6 L837.3 586.8 L838.9 587.0 L840.4 587.1 L841.9 587.3 L843.5 587.5 L845.0 587.7 L846.5 587.8 L848.1 588.0 L849.6 588.2" stroke="#6e6a50" stroke-width="1.8" stroke-dasharray="9.4 9.85" stroke-linecap="square"/>
<path d="M236.0 302.7 L237.5 302.8 L239.1 302.9 L240.6 303.0 L242.1 303.2 L243.7 303.3 L245.2 303.4 L246.7 303.5 L248.3 303.7 L249.8 303.8 L251.3 304.0 L252.9 304.1 L254.4 304.2 L255.9 304.4 L257.5 304.6 L259.0 304.7 L260.5 304.9 L262.1 305.0 L263.6 305.2 L265.1 305.4 L266.7 305.5 L268.2 305.7 L269.7 305.9 L271.3 306.1 L272.8 306.3 L274.4 306.4 L275.9 306.6 L277.4 306.8 L279.0 307.0 L280.5 307.2 L282.0 307.4 L283.6 307.6 L285.1 307.9 L286.6 308.1 L288.2 308.3 L289.7 308.5 L291.2 308.7 L292.8 309.0 L294.3 309.2 L295.8 309.4 L297.4 309.7 L298.9 309.9 L300.4 310.1 L302.0 310.4 L303.5 310.6 L305.0 310.9 L306.6 311.1 L308.1 311.4 L309.6 311.7 L311.2 311.9 L312.7 312.2 L314.2 312.5 L315.8 312.7 L317.3 313.0 L318.8 313.3 L320.4 313.6 L321.9 313.9 L323.4 314.1 L325.0 314.4 L326.5 314.7 L328.0 315.0 L329.6 315.3 L331.1 315.6 L332.6 315.9 L334.2 316.3 L335.7 316.6 L337.2 316.9 L338.8 317.2 L340.3 317.5 L341.8 317.9 L343.4 318.2 L344.9 318.5 L346.4 318.9 L348.0 319.2 L349.5 319.5 L351.1 319.9 L352.6 320.2 L354.1 320.6 L355.7 321.0 L357.2 321.3 L358.7 321.7 L360.3 322.0 L361.8 322.4 L363.3 322.8 L364.9 323.2 L366.4 323.5 L367.9 323.9 L369.5 324.3 L371.0 324.7 L372.5 325.1 L374.1 325.5 L375.6 325.9 L377.1 326.3 L378.7 326.7 L380.2 327.1 L381.7 327.5 L383.3 327.9 L384.8 328.3 L386.3 328.7 L387.9 329.2 L389.4 329.6 L390.9 330.0 L392.5 330.4 L394.0 330.9 L395.5 331.3 L397.1 331.8 L398.6 332.2 L400.1 332.7 L401.7 333.1 L403.2 333.6 L404.7 334.0 L406.3 334.5 L407.8 334.9 L409.3 335.4 L410.9 335.9 L412.4 336.3 L413.9 336.8 L415.5 337.3 L417.0 337.8 L418.5 338.3 L420.1 338.8 L421.6 339.3 L423.1 339.7 L424.7 340.2 L426.2 340.7 L427.8 341.3 L429.3 341.8 L430.8 342.3 L432.4 342.8 L433.9 343.3 L435.4 343.8 L437.0 344.3 L438.5 344.9 L440.0 345.4 L441.6 345.9 L443.1 346.5 L444.6 347.0 L446.2 347.6 L447.7 348.1 L449.2 348.7 L450.8 349.2 L452.3 349.8 L453.8 350.3 L455.4 350.9 L456.9 351.4 L458.4 352.0 L460.0 352.6 L461.5 353.2 L463.0 353.7 L464.6 354.3 L466.1 354.9 L467.6 355.5 L469.2 356.1 L470.7 356.7 L472.2 357.3 L473.8 357.9 L475.3 358.5 L476.8 359.1 L478.4 359.7 L479.9 360.3 L481.4 360.9 L483.0 361.5 L484.5 362.1 L486.0 362.8 L487.6 363.4 L489.1 364.0 L490.6 364.7 L492.2 365.3 L493.7 365.9 L495.2 366.6 L496.8 367.2 L498.3 367.9 L499.8 368.5 L501.4 369.2 L502.9 369.9 L504.4 370.5 L506.0 371.2 L507.5 371.9 L509.1 372.5 L510.6 373.2 L512.1 373.9 L513.7 374.6 L515.2 375.2 L516.7 375.9 L518.3 376.6 L519.8 377.3 L521.3 378.0 L522.9 378.7 L524.4 379.4 L525.9 380.1 L527.5 380.8 L529.0 381.6 L530.5 382.3 L532.1 383.0 L533.6 383.7 L535.1 384.4 L536.7 385.2 L538.2 385.9 L539.7 386.6 L541.3 387.4 L542.8 388.1 L544.3 388.9 L545.9 389.6 L547.4 390.4 L548.9 391.1 L550.5 391.9 L552.0 392.6 L553.5 393.4 L555.1 394.2 L556.6 394.9 L558.1 395.7 L559.7 396.5 L561.2 397.3 L562.7 398.1 L564.3 398.8 L565.8 399.6 L567.3 400.4 L568.9 401.2 L570.4 402.0 L571.9 402.8 L573.5 403.6 L575.0 404.4 L576.5 405.2 L578.1 406.1 L579.6 406.9 L581.2 407.7 L582.7 408.5 L584.2 409.3 L585.8 410.2 L587.3 411.0 L588.8 411.8 L590.4 412.7 L591.9 413.5 L593.4 414.4 L595.0 415.2 L596.5 416.1 L598.0 416.9 L599.6 417.8 L601.1 418.7 L602.6 419.5 L604.2 420.4 L605.7 421.3 L607.2 422.1 L608.8 423.0 L610.3 423.9 L611.8 424.8 L613.4 425.7 L614.9 426.6 L616.4 427.5 L618.0 428.4 L619.5 429.3 L621.0 430.2 L622.6 431.1 L624.1 432.0 L625.6 432.9 L627.2 433.8 L628.7 434.7 L630.2 435.6 L631.8 436.6 L633.3 437.5 L634.8 438.4 L636.4 439.4 L637.9 440.3 L639.4 441.2 L641.0 442.2 L642.5 443.1 L644.0 444.1 L645.6 445.0 L647.1 446.0 L648.6 447.0 L650.2 447.9 L651.7 448.9 L653.2 449.9 L654.8 450.8 L656.3 451.8 L657.9 452.8 L659.4 453.8 L660.9 454.8 L662.5 455.7 L664.0 456.7 L665.5 457.7 L667.1 458.7 L668.6 459.7 L670.1 460.7 L671.7 461.7 L673.2 462.8 L674.7 463.8 L676.3 464.8 L677.8 465.8 L679.3 466.8 L680.9 467.9 L682.4 468.9 L683.9 469.9 L685.5 471.0 L687.0 472.0 L688.5 473.0 L690.1 474.1 L691.6 475.1 L693.1 476.2 L694.7 477.2 L696.2 478.3 L697.7 479.4 L699.3 480.4 L700.8 481.5 L702.3 482.6 L703.9 483.6 L705.4 484.7 L706.9 485.8 L708.5 486.9 L710.0 488.0 L711.5 489.1 L713.1 490.1 L714.6 491.2 L716.1 492.3 L717.7 493.4 L719.2 494.5 L720.7 495.7 L722.3 496.8 L723.8 497.9 L725.3 499.0 L726.9 500.1 L728.4 501.2 L729.9 502.4 L731.5 503.5 L733.0 504.6 L734.5 505.8 L736.1 506.9 L737.6 508.1 L739.2 509.2 L740.7 510.4 L742.2 511.5 L743.8 512.7 L745.3 513.8 L746.8 515.0 L748.4 516.2 L749.9 517.3 L751.4 518.5 L753.0 519.7 L754.5 520.9 L756.0 522.0 L757.6 523.2 L759.1 524.4 L760.6 525.6 L762.2 526.8 L763.7 528.0 L765.2 529.2 L766.8 530.4 L768.3 531.6 L769.8 532.8 L771.4 534.0 L772.9 535.2 L774.4 536.5 L776.0 537.7 L777.5 538.9 L779.0 540.1 L780.6 541.4 L782.1 542.6 L783.6 543.8 L785.2 545.1 L786.7 546.3 L788.2 547.6 L789.8 548.8 L791.3 550.1 L792.8 551.3 L794.4 552.6 L795.9 553.9 L797.4 555.1 L799.0 556.4 L800.5 557.7 L802.0 559.0 L803.6 560.2 L805.1 561.5 L806.6 562.8 L808.2 564.1 L809.7 565.4 L811.2 566.7 L812.8 568.0 L814.3 569.3 L815.9 570.6 L817.4 571.9 L818.9 573.2 L820.5 574.5 L822.0 575.8 L823.5 577.2 L825.1 578.5 L826.6 579.8 L828.1 581.1 L829.7 582.5 L831.2 583.8 L832.7 585.2 L834.3 586.5 L835.8 587.8 L837.3 589.2 L838.9 590.6 L840.4 591.9 L841.9 593.3 L843.5 594.6 L845.0 596.0 L846.5 597.4 L848.1 598.7 L849.6 600.1" stroke="#e09c5c" stroke-width="1.7" clip-path="url(#cp)"/>
<path d="M236.0 274.0 L237.5 274.3 L239.1 274.5 L240.6 274.8 L242.1 275.1 L243.7 275.3 L245.2 275.6 L246.7 275.8 L248.3 276.1 L249.8 276.4 L251.3 276.7 L252.9 277.0 L254.4 277.2 L255.9 277.5 L257.5 277.8 L259.0 278.1 L260.5 278.4 L262.1 278.8 L263.6 279.1 L265.1 279.4 L266.7 279.7 L268.2 280.0 L269.7 280.4 L271.3 280.7 L272.8 281.0 L274.4 281.4 L275.9 281.7 L277.4 282.1 L279.0 282.5 L280.5 282.8 L282.0 283.2 L283.6 283.6 L285.1 284.0 L286.6 284.3 L288.2 284.7 L289.7 285.1 L291.2 285.5 L292.8 285.9 L294.3 286.3 L295.8 286.8 L297.4 287.2 L298.9 287.6 L300.4 288.1 L302.0 288.5 L303.5 288.9 L305.0 289.4 L306.6 289.9 L308.1 290.3 L309.6 290.8 L311.2 291.3 L312.7 291.7 L314.2 292.2 L315.8 292.7 L317.3 293.2 L318.8 293.7 L320.4 294.3 L321.9 294.8 L323.4 295.3 L325.0 295.8 L326.5 296.4 L328.0 296.9 L329.6 297.5 L331.1 298.0 L332.6 298.6 L334.2 299.2 L335.7 299.8 L337.2 300.4 L338.8 301.0 L340.3 301.6 L341.8 302.2 L343.4 302.8 L344.9 303.4 L346.4 304.1 L348.0 304.7 L349.5 305.3 L351.1 306.0 L352.6 306.7 L354.1 307.3 L355.7 308.0 L357.2 308.7 L358.7 309.4 L360.3 310.1 L361.8 310.8 L363.3 311.5 L364.9 312.2 L366.4 313.0 L367.9 313.7 L369.5 314.5 L371.0 315.2 L372.5 316.0 L374.1 316.8 L375.6 317.5 L377.1 318.3 L378.7 319.1 L380.2 319.9 L381.7 320.7 L383.3 321.6 L384.8 322.4 L386.3 323.2 L387.9 324.1 L389.4 324.9 L390.9 325.8 L392.5 326.7 L394.0 327.6 L395.5 328.4 L397.1 329.3 L398.6 330.2 L400.1 331.2 L401.7 332.1 L403.2 333.0 L404.7 334.0 L406.3 334.9 L407.8 335.9 L409.3 336.8 L410.9 337.8 L412.4 338.8 L413.9 339.8 L415.5 340.8 L417.0 341.8 L418.5 342.8 L420.1 343.8 L421.6 344.8 L423.1 345.9 L424.7 346.9 L426.2 348.0 L427.8 349.0 L429.3 350.1 L430.8 351.2 L432.4 352.3 L433.9 353.3 L435.4 354.5 L437.0 355.6 L438.5 356.7 L440.0 357.8 L441.6 358.9 L443.1 360.1 L444.6 361.2 L446.2 362.4 L447.7 363.5 L449.2 364.7 L450.8 365.9 L452.3 367.0 L453.8 368.2 L455.4 369.4 L456.9 370.6 L458.4 371.8 L460.0 373.0 L461.5 374.3 L463.0 375.5 L464.6 376.7 L466.1 378.0 L467.6 379.2 L469.2 380.4 L470.7 381.7 L472.2 383.0 L473.8 384.2 L475.3 385.5 L476.8 386.8 L478.4 388.0 L479.9 389.3 L481.4 390.6 L483.0 391.9 L484.5 393.2 L486.0 394.5 L487.6 395.8 L489.1 397.1 L490.6 398.5 L492.2 399.8 L493.7 401.1 L495.2 402.4 L496.8 403.7 L498.3 405.1 L499.8 406.4 L501.4 407.7 L502.9 409.1 L504.4 410.4 L506.0 411.8 L507.5 413.1 L509.1 414.5 L510.6 415.8 L512.1 417.2 L513.7 418.5 L515.2 419.9 L516.7 421.2 L518.3 422.6 L519.8 423.9 L521.3 425.3 L522.9 426.6 L524.4 428.0 L525.9 429.3 L527.5 430.7 L529.0 432.1 L530.5 433.4 L532.1 434.8 L533.6 436.1 L535.1 437.5 L536.7 438.8 L538.2 440.2 L539.7 441.5 L541.3 442.9 L542.8 444.2 L544.3 445.6 L545.9 446.9 L547.4 448.2 L548.9 449.6 L550.5 450.9 L552.0 452.2 L553.5 453.5 L555.1 454.9 L556.6 456.2 L558.1 457.5 L559.7 458.8 L561.2 460.1 L562.7 461.4 L564.3 462.7 L565.8 464.0 L567.3 465.3 L568.9 466.6 L570.4 467.9 L571.9 469.2 L573.5 470.4 L575.0 471.7 L576.5 473.0 L578.1 474.2 L579.6 475.5 L581.2 476.7 L582.7 477.9 L584.2 479.2 L585.8 480.4 L587.3 481.6 L588.8 482.8 L590.4 484.1 L591.9 485.3 L593.4 486.4 L595.0 487.6 L596.5 488.8 L598.0 490.0 L599.6 491.2 L601.1 492.3 L602.6 493.5 L604.2 494.6 L605.7 495.8 L607.2 496.9 L608.8 498.0 L610.3 499.1 L611.8 500.2 L613.4 501.4 L614.9 502.4 L616.4 503.5 L618.0 504.6 L619.5 505.7 L621.0 506.7 L622.6 507.8 L624.1 508.9 L625.6 509.9 L627.2 510.9 L628.7 511.9 L630.2 513.0 L631.8 514.0 L633.3 515.0 L634.8 516.0 L636.4 516.9 L637.9 517.9 L639.4 518.9 L641.0 519.8 L642.5 520.8 L644.0 521.7 L645.6 522.7 L647.1 523.6 L648.6 524.5 L650.2 525.4 L651.7 526.3 L653.2 527.2 L654.8 528.1 L656.3 529.0 L657.9 529.8 L659.4 530.7 L660.9 531.5 L662.5 532.4 L664.0 533.2 L665.5 534.0 L667.1 534.8 L668.6 535.7 L670.1 536.5 L671.7 537.2 L673.2 538.0 L674.7 538.8 L676.3 539.6 L677.8 540.3 L679.3 541.1 L680.9 541.8 L682.4 542.6 L683.9 543.3 L685.5 544.0 L687.0 544.7 L688.5 545.4 L690.1 546.1 L691.6 546.8 L693.1 547.5 L694.7 548.2 L696.2 548.8 L697.7 549.5 L699.3 550.1 L700.8 550.8 L702.3 551.4 L703.9 552.0 L705.4 552.7 L706.9 553.3 L708.5 553.9 L710.0 554.5 L711.5 555.1 L713.1 555.6 L714.6 556.2 L716.1 556.8 L717.7 557.4 L719.2 557.9 L720.7 558.5 L722.3 559.0 L723.8 559.5 L725.3 560.1 L726.9 560.6 L728.4 561.1 L729.9 561.6 L731.5 562.1 L733.0 562.6 L734.5 563.1 L736.1 563.6 L737.6 564.1 L739.2 564.6 L740.7 565.0 L742.2 565.5 L743.8 565.9 L745.3 566.4 L746.8 566.8 L748.4 567.3 L749.9 567.7 L751.4 568.1 L753.0 568.5 L754.5 569.0 L756.0 569.4 L757.6 569.8 L759.1 570.2 L760.6 570.6 L762.2 570.9 L763.7 571.3 L765.2 571.7 L766.8 572.1 L768.3 572.4 L769.8 572.8 L771.4 573.2 L772.9 573.5 L774.4 573.9 L776.0 574.2 L777.5 574.5 L779.0 574.9 L780.6 575.2 L782.1 575.5 L783.6 575.8 L785.2 576.2 L786.7 576.5 L788.2 576.8 L789.8 577.1 L791.3 577.4 L792.8 577.7 L794.4 578.0 L795.9 578.2 L797.4 578.5 L799.0 578.8 L800.5 579.1 L802.0 579.4 L803.6 579.6 L805.1 579.9 L806.6 580.1 L808.2 580.4 L809.7 580.6 L811.2 580.9 L812.8 581.1 L814.3 581.4 L815.9 581.6 L817.4 581.8 L818.9 582.1 L820.5 582.3 L822.0 582.5 L823.5 582.7 L825.1 583.0 L826.6 583.2 L828.1 583.4 L829.7 583.6 L831.2 583.8 L832.7 584.0 L834.3 584.2 L835.8 584.4 L837.3 584.6 L838.9 584.8 L840.4 585.0 L841.9 585.1 L843.5 585.3 L845.0 585.5 L846.5 585.7 L848.1 585.9 L849.6 586.0" stroke="#6a3580" stroke-width="1.8" stroke-dasharray="9.4 9.85" stroke-linecap="square"/>
<path d="M236.0 352.6 C266.7 352.6 359.3 352.6 420.0 352.6 C480.7 352.6 568.3 352.6 600.0 352.6 C631.7 352.6 606.4 352.5 610.0 352.8 C613.6 353.1 616.6 353.1 621.4 354.5 C626.1 355.9 632.9 358.8 638.5 361.5 C644.1 364.2 650.1 367.4 655.3 370.8 C660.5 374.1 664.8 377.9 669.6 381.7 C674.5 385.5 679.5 389.6 684.3 393.6 C689.1 397.7 694.1 401.7 698.7 405.9 C703.3 410.2 707.6 414.7 712.0 418.9 C716.5 423.2 721.0 426.9 725.5 431.2 C730.0 435.6 734.4 440.6 738.8 444.9 C743.2 449.3 747.7 453.3 752.1 457.6 C756.5 461.9 760.7 466.4 765.1 470.6 C769.5 474.8 774.0 478.8 778.8 482.9 C783.6 486.9 788.8 491.1 793.8 494.9 C798.8 498.7 805.2 502.7 808.9 505.4 C812.6 508.2 814.0 509.8 816.0 511.2 C818.0 512.6 819.3 513.2 821.0 513.6 C822.7 514.0 821.5 513.7 826.3 513.7 C831.1 513.7 845.7 513.7 849.6 513.7" stroke="#3c9a6e" stroke-width="1.8" stroke-dasharray="9.4 9.85" stroke-linecap="square"/>
</g>
<!-- annotation -->
<g stroke="#8a8a8a" stroke-width="1.8" fill="none">
<path d="M542.8 608V436.6H255"/>
</g>
<path d="M237.3 436.6L262 430.6L258.5 436.6L262 442.6Z" fill="#7d7d7d"/>
<text transform="translate(265.4 459) scale(1.106 1)" font-size="26.06" fill="#7f7f7f">4.839</text>
<!-- frame -->
<rect x="223.4" y="241.3" width="639.2" height="366.8" fill="none" stroke="#4a4a4a" stroke-width="1.3"/>
<path d="M236.0 608V601.0 M236.0 241V248.0 M318.8 608V604.5 M318.8 241V244.5 M340.2 608V604.5 M340.2 241V244.5 M353.4 608V604.5 M353.4 241V244.5 M362.8 608V604.5 M362.8 241V244.5 M370.0 608V604.5 M370.0 241V244.5 M375.7 608V604.5 M375.7 241V244.5 M380.9 608V604.5 M380.9 241V244.5 M385.2 608V604.5 M385.2 241V244.5 M389.4 608V601.0 M389.4 241V248.0 M472.2 608V604.5 M472.2 241V244.5 M493.6 608V604.5 M493.6 241V244.5 M506.8 608V604.5 M506.8 241V244.5 M516.2 608V604.5 M516.2 241V244.5 M523.4 608V604.5 M523.4 241V244.5 M529.1 608V604.5 M529.1 241V244.5 M534.3 608V604.5 M534.3 241V244.5 M538.6 608V604.5 M538.6 241V244.5 M542.8 608V601.0 M542.8 241V248.0 M625.6 608V604.5 M625.6 241V244.5 M647.0 608V604.5 M647.0 241V244.5 M660.2 608V604.5 M660.2 241V244.5 M669.6 608V604.5 M669.6 241V244.5 M676.8 608V604.5 M676.8 241V244.5 M682.5 608V604.5 M682.5 241V244.5 M687.7 608V604.5 M687.7 241V244.5 M692.0 608V604.5 M692.0 241V244.5 M696.2 608V601.0 M696.2 241V248.0 M779.0 608V604.5 M779.0 241V244.5 M800.4 608V604.5 M800.4 241V244.5 M813.6 608V604.5 M813.6 241V244.5 M823.0 608V604.5 M823.0 241V244.5 M830.2 608V604.5 M830.2 241V244.5 M835.9 608V604.5 M835.9 241V244.5 M841.1 608V604.5 M841.1 241V244.5 M845.4 608V604.5 M845.4 241V244.5 M849.6 608V601.0 M849.6 241V248.0 M223 608.3H227.0 M863 608.3H859.0 M223 597.0H231.0 M863 597.0H855.0 M223 585.7H227.0 M863 585.7H859.0 M223 574.4H227.0 M863 574.4H859.0 M223 563.1H227.0 M863 563.1H859.0 M223 551.8H227.0 M863 551.8H859.0 M223 540.5H231.0 M863 540.5H855.0 M223 529.2H227.0 M863 529.2H859.0 M223 517.9H227.0 M863 517.9H859.0 M223 506.6H227.0 M863 506.6H859.0 M223 495.3H227.0 M863 495.3H859.0 M223 484.0H231.0 M863 484.0H855.0 M223 472.7H227.0 M863 472.7H859.0 M223 461.4H227.0 M863 461.4H859.0 M223 450.1H227.0 M863 450.1H859.0 M223 438.8H227.0 M863 438.8H859.0 M223 427.5H231.0 M863 427.5H855.0 M223 416.2H227.0 M863 416.2H859.0 M223 404.9H227.0 M863 404.9H859.0 M223 393.6H227.0 M863 393.6H859.0 M223 382.3H227.0 M863 382.3H859.0 M223 371.0H231.0 M863 371.0H855.0 M223 359.7H227.0 M863 359.7H859.0 M223 348.4H227.0 M863 348.4H859.0 M223 337.1H227.0 M863 337.1H859.0 M223 325.8H227.0 M863 325.8H859.0 M223 314.5H231.0 M863 314.5H855.0 M223 303.2H227.0 M863 303.2H859.0 M223 291.9H227.0 M863 291.9H859.0 M223 280.6H227.0 M863 280.6H859.0 M223 269.3H227.0 M863 269.3H859.0 M223 258.0H231.0 M863 258.0H855.0 M223 246.7H227.0 M863 246.7H859.0" stroke="#4a4a4a" stroke-width="1.4" fill="none"/>
<!-- red arrow -->
<g stroke="#f00000" stroke-width="3" fill="none" stroke-linecap="round" stroke-linejoin="round">
<path d="M393 585.8H648"/>
<path d="M403.2 580.3L393 585.8L403.2 591.3"/>
<path d="M637.8 580.2L648.5 585.8L637.8 591.4"/>
</g>
<!-- y tick labels -->
<g font-size="26.2" fill="#2c2c2c" text-anchor="end">
<text transform="translate(216.2 263.9) scale(1.1 1)">8</text>
<text transform="translate(216.2 320.4) scale(1.1 1)">7</text>
<text transform="translate(216.2 376.9) scale(1.1 1)">6</text>
<text transform="translate(216.2 433.4) scale(1.1 1)">5</text>
<text transform="translate(216.2 489.9) scale(1.1 1)">4</text>
<text transform="translate(216.2 546.4) scale(1.1 1)">3</text>
<text transform="translate(216.2 602.9) scale(1.1 1)">2</text>
</g>
<!-- x tick labels -->
<g font-size="26.2" fill="#2c2c2c">
<text transform="translate(207.6 644.9) scale(1.08 1)">10</text>
<text transform="translate(238.9 634.2) scale(1.08 1)" font-size="19.5">−4</text>
<text transform="translate(388 633.7) scale(1.09 1)" text-anchor="middle">0.01</text>
<text transform="translate(541.6 633.7) scale(1.09 1)" text-anchor="middle">1</text>
<text transform="translate(696.6 633.7) scale(1.09 1)" text-anchor="middle">100</text>
<text transform="translate(827.6 644.8) scale(1.1 1)">10</text>
<text transform="translate(859.1 634.4) scale(1.0 1)" font-size="19.5">4</text>
</g>
<!-- axis labels -->
<g fill="#2c2c2c">
<text transform="translate(414 699) scale(1.013 1)" font-size="28.55">Luminance (cd</text>
<text transform="translate(613.1 699) scale(1.08 1)" font-size="27.6" font-style="italic">m</text>
<text transform="translate(636.8 686.1) scale(1.12 1)" font-size="19">−2</text>
<text transform="translate(663.6 699.3) scale(1.0 1)" font-size="25.5">)</text>
</g>
<text transform="translate(176 514) scale(1.08 1) rotate(-90)" font-size="26.9" fill="#2c2c2c">Diameter (mm)</text>
<!-- legend -->
<g font-size="17.2" text-anchor="end">
<text transform="translate(849.6 266.9) scale(1.12 1)" fill="#1e1e1e">Unified</text>
<text transform="translate(849.6 279.0) scale(1.12 1)" fill="#8c8c8c">Holladay</text>
<text transform="translate(849.6 303.9) scale(1.12 1)" fill="#56608e">Crawford</text>
<text transform="translate(849.6 322.3) scale(1.12 1)" fill="#a464a2">MoonSpencer</text>
<text transform="translate(849.6 340.2) scale(1.12 1)" fill="#c84c5a">DeGrootGebhard</text>
<text transform="translate(849.6 358.7) scale(1.12 1)" fill="#6c6a58">StanleyDavies</text>
<text transform="translate(849.6 370.4) scale(1.12 1)" fill="#dca068">BlackieHowland</text>
<text transform="translate(849.6 389.0) scale(1.12 1)" fill="#6e4686">Barten</text>
<text transform="translate(849.6 407.0) scale(1.12 1)" fill="#449a6e">Winn</text>
</g>
<!-- resize grip -->
<g stroke="#6f6f6f" stroke-width="2.6" stroke-linecap="round">
<path d="M891 724.5L929.5 689.2M903.5 724.5L929.5 700.5M915.8 724.8L929.5 712.4"/>
</g>
</svg>
</body></html>
